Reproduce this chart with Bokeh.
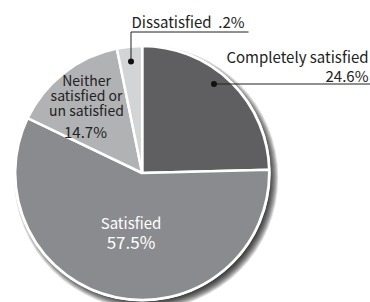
import numpy as np
from bokeh.plotting import figure
from bokeh.models import Range1d
from bokeh.core.properties import value
from bokeh.embed import file_html
from bokeh.resources import INLINE

categories = ["Completely satisfied", "Satisfied", "Neither satisfied or un satisfied", "Dissatisfied"]
values = [24.6, 57.5, 14.7, 3.2]
value_labels = ["24.6%", "57.5%", "14.7%", ".2%"]
colors = ["#5f5f62", "#8a8b8e", "#b1b2b4", "#d3d4d5"]

FONT = value("Noto Sans CJK JP")
CX, CY, R = 141.7, -172.5, 127.0
DY = 6.5  # baseline correction for the font

fracs = np.array(values) / sum(values)
cum = np.concatenate([[0.0], np.cumsum(fracs)])
start = np.pi / 2 - 2 * np.pi * cum[:-1]
end = np.pi / 2 - 2 * np.pi * cum[1:]

p = figure(width=370, height=302, x_range=Range1d(0, 370), y_range=Range1d(-302, 0),
           output_backend="svg", toolbar_location=None, min_border=0)
p.axis.visible = False
p.grid.visible = False
p.outline_line_color = None
p.background_fill_color = "white"
p.border_fill_color = "white"

# soft drop shadow
for i in range(10):
    p.circle(x=[CX + 4], y=[CY - 4.5], radius=R - 3 + i * 0.9,
             fill_color="black", fill_alpha=0.12, line_color=None)

# white rim
p.circle(x=[CX], y=[CY], radius=R + 1.5, fill_color="white", line_color=None)

p.wedge(x=CX, y=CY, radius=R, start_angle=start, end_angle=end, direction="clock",
        fill_color=colors, line_color="white", line_width=2.5)

txt = "#222222"

def label(x, y, s, size, color=txt, align="left"):
    p.text(x=[x], y=[y + DY], text=[s], text_font=FONT, text_font_size=size,
           text_color=color, text_baseline="alphabetic", text_align=align)

# Dissatisfied
label(131, -27.5, categories[3] + "\u00a0\u00a0" + value_labels[3], "15px")
p.line(x=[248, 130.5, 130.5], y=[-31.5, -31.5, -61], line_color="#222222", line_width=1)
p.scatter(x=[130.5], y=[-61], size=6, fill_color="#111111", line_color=None)

# Completely satisfied
label(368, -62, categories[0], "15px", align="right")
label(368, -81, value_labels[0], "15px", align="right")
p.line(x=[213, 370], y=[-83.5, -83.5], line_color="#222222", line_width=1.2)
p.scatter(x=[213.5], y=[-83.5], size=6, fill_color="#111111", line_color=None)

# Neither
for t, yy in zip(["Neither", "satisfied or", "un satisfied"], [-86, -100.5, -115.5]):
    label(86, yy, t, "14px", align="center")
label(85, -137, value_labels[2], "15px", align="center")

# Satisfied
label(130.5, -228.5, categories[1], "15px", color="white", align="center")
label(130.5, -247.5, value_labels[1], "17px", color="white", align="center")

open("out.html", "w").write(file_html(p, INLINE))
